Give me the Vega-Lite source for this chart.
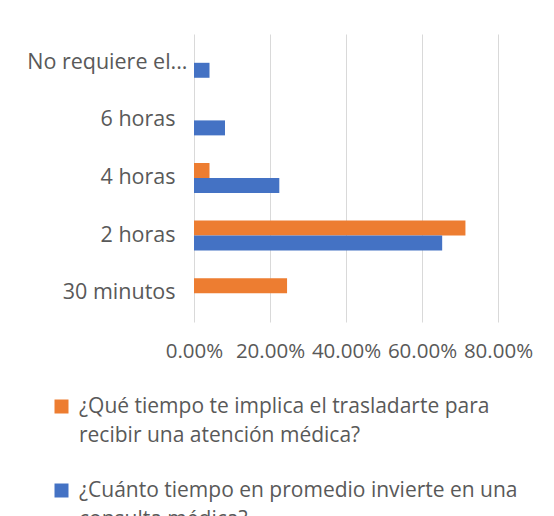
{
  "$schema": "https://vega.github.io/schema/vega-lite/v6.json",
  "width": 304,
  "height": 288,
  "autosize": {"type": "none"},
  "padding": {"left": 194, "top": 34, "right": 56, "bottom": 194},
  "background": "white",
  "config": {"view": {"stroke": null}, "font": "Open Sans"},
  "data": {
    "values": [
      {"category": "30 minutos", "series": "¿Qué tiempo te implica el trasladarte para recibir una atención médica?", "pct": 0.2449},
      {"category": "2 horas", "series": "¿Qué tiempo te implica el trasladarte para recibir una atención médica?", "pct": 0.7143},
      {"category": "2 horas", "series": "¿Cuánto tiempo en promedio invierte en una consulta médica?", "pct": 0.6531},
      {"category": "4 horas", "series": "¿Qué tiempo te implica el trasladarte para recibir una atención médica?", "pct": 0.0408},
      {"category": "4 horas", "series": "¿Cuánto tiempo en promedio invierte en una consulta médica?", "pct": 0.2245},
      {"category": "6 horas", "series": "¿Cuánto tiempo en promedio invierte en una consulta médica?", "pct": 0.0816},
      {"category": "No requiere el...", "series": "¿Cuánto tiempo en promedio invierte en una consulta médica?", "pct": 0.0408}
    ]
  },
  "mark": {"type": "bar"},
  "encoding": {
    "y": {
      "field": "category",
      "type": "nominal",
      "sort": ["No requiere el...", "6 horas", "4 horas", "2 horas", "30 minutos"],
      "scale": {"paddingInner": 0.48, "paddingOuter": 0.24},
      "axis": {
        "title": null,
        "ticks": false,
        "domain": false,
        "labelFontSize": 21.5,
        "labelColor": "#595959",
        "labelPadding": {"condition": {"test": "datum.value == 'No requiere el...'", "value": 7}, "value": 19},
        "labelLimit": 300
      }
    },
    "yOffset": {
      "field": "series",
      "sort": ["¿Qué tiempo te implica el trasladarte para recibir una atención médica?", "¿Cuánto tiempo en promedio invierte en una consulta médica?"],
      "scale": {"paddingInner": 0, "paddingOuter": 0}
    },
    "x": {
      "field": "pct",
      "type": "quantitative",
      "scale": {"domain": [0, 0.8], "nice": false},
      "axis": {
        "title": null,
        "format": ".2%",
        "values": [0, 0.2, 0.4, 0.6, 0.8],
        "grid": true,
        "gridColor": "#d9d9d9",
        "domain": false,
        "ticks": false,
        "labelFontSize": 20.5,
        "labelColor": "#595959",
        "labelPadding": 19,
        "labelFlush": false,
        "labelOverlap": false
      }
    },
    "color": {
      "field": "series",
      "type": "nominal",
      "scale": {
        "domain": ["¿Qué tiempo te implica el trasladarte para recibir una atención médica?", "¿Cuánto tiempo en promedio invierte en una consulta médica?"],
        "range": ["#ED7D31", "#4472C4"]
      },
      "legend": {
        "title": null,
        "orient": "none",
        "direction": "vertical",
        "legendX": -143,
        "legendY": 362,
        "padding": 0,
        "symbolType": "square",
        "symbolSize": 196,
        "symbolStrokeWidth": 0,
        "labelOffset": 7,
        "labelFontSize": 21,
        "labelColor": "#595959",
        "labelLimit": 600,
        "rowPadding": 33,
        "labelExpr": "indexof(datum.label, 'Qué') >= 0 ? ['¿Qué tiempo te implica el trasladarte para', 'recibir una atención médica?'] : ['¿Cuánto tiempo en promedio invierte en una', 'consulta médica?']",
        "encode": {
          "labels": {"update": {"lineHeight": {"value": 29}}}
        }
      }
    }
  }
}
